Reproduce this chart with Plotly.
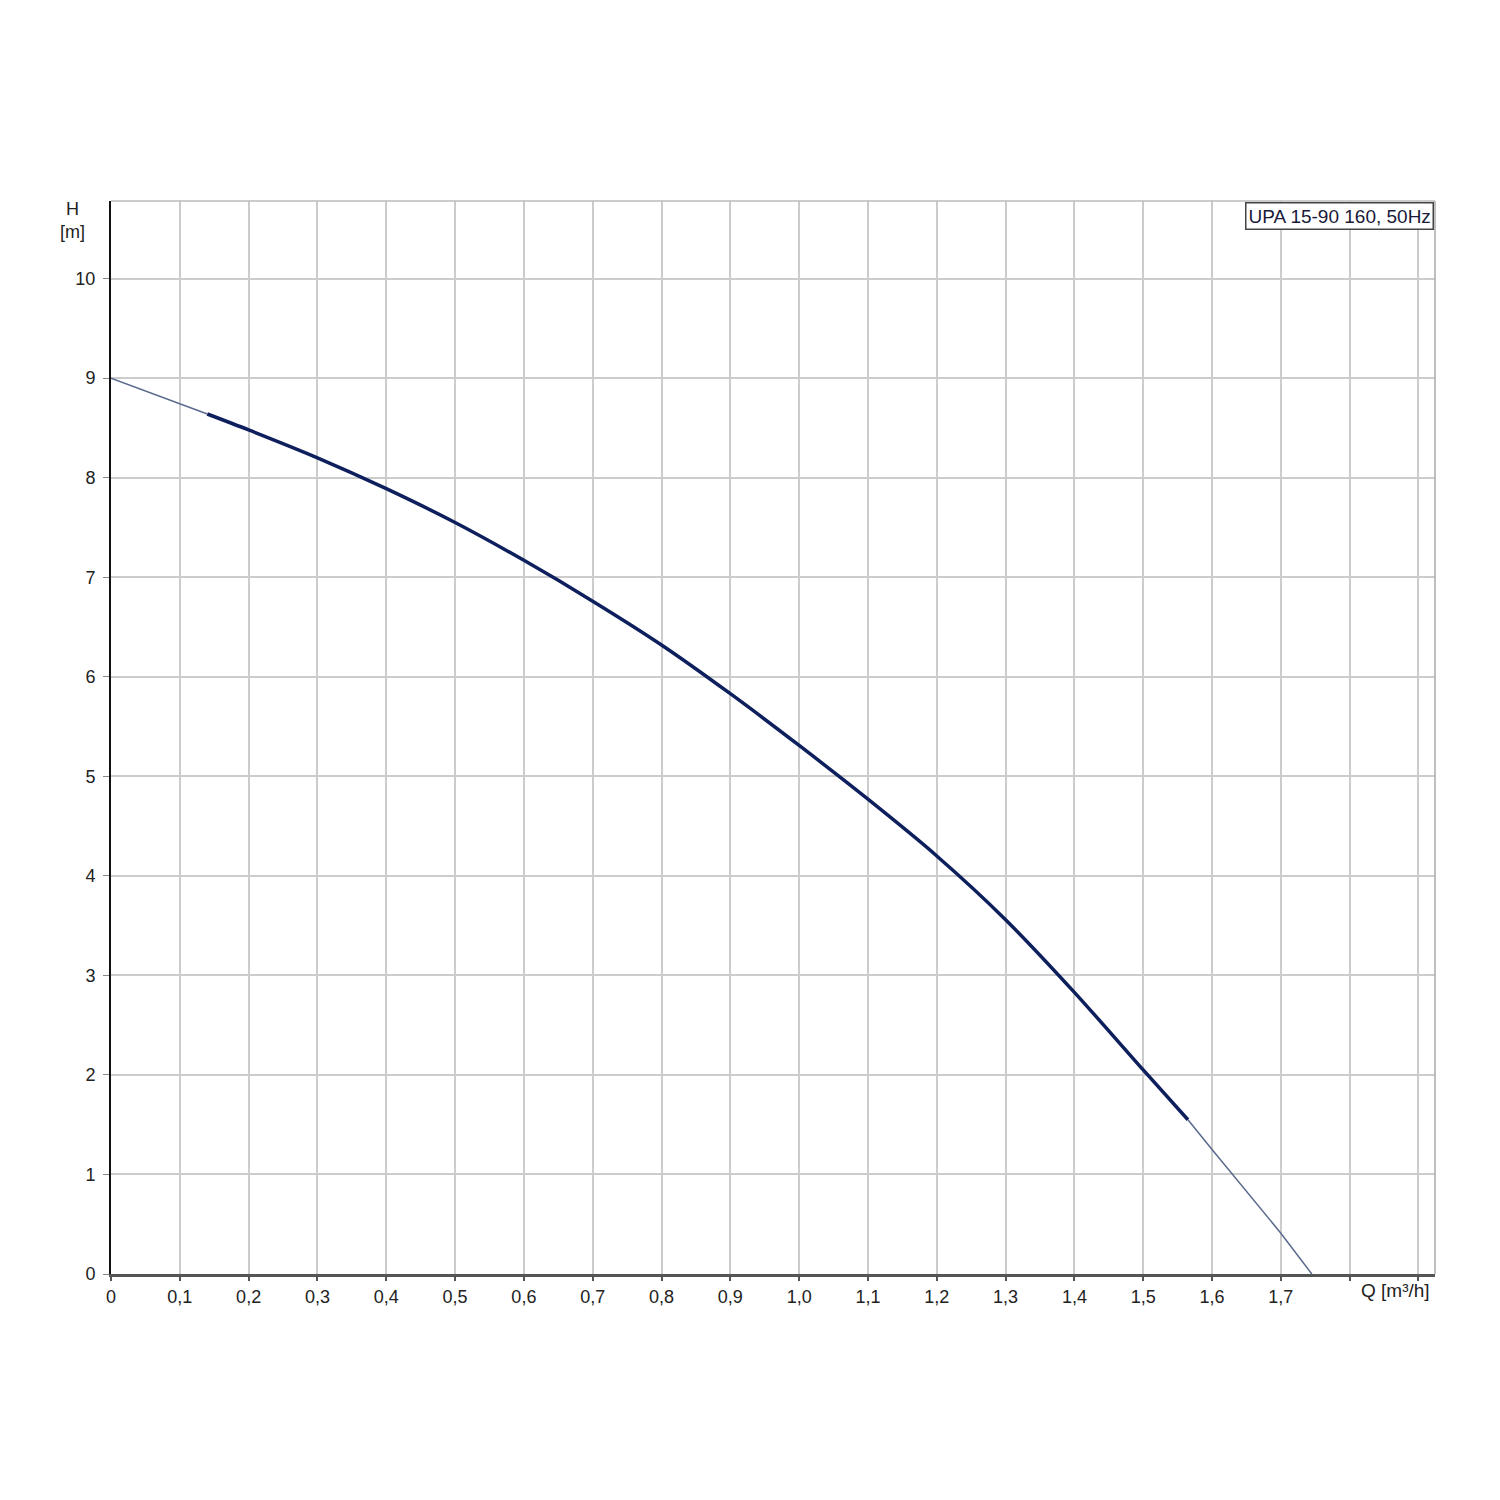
import plotly.graph_objects as go

# Pump curve data (Q in m³/h, H in m)
q_start = [0.0, 0.14]
h_start = [9.0, 8.64]

q_main = [0.14, 0.2, 0.3, 0.4, 0.5, 0.6, 0.7, 0.8, 0.9, 1.0, 1.1, 1.2, 1.3, 1.4, 1.5, 1.565]
h_main = [8.64, 8.48, 8.20, 7.89, 7.55, 7.17, 6.76, 6.32, 5.83, 5.31, 4.77, 4.20, 3.56, 2.83, 2.05, 1.55]

q_end = [1.565, 1.6, 1.7, 1.745]
h_end = [1.55, 1.25, 0.41, 0.0]

x_tickvals = [0, 0.1, 0.2, 0.3, 0.4, 0.5, 0.6, 0.7, 0.8, 0.9, 1.0, 1.1, 1.2, 1.3, 1.4, 1.5, 1.6, 1.7, 1.8, 1.9]
x_ticktext = ["0", "0,1", "0,2", "0,3", "0,4", "0,5", "0,6", "0,7", "0,8", "0,9", "1,0", "1,1", "1,2", "1,3", "1,4", "1,5", "1,6", "1,7", "", ""]
y_tickvals = [0, 1, 2, 3, 4, 5, 6, 7, 8, 9, 10]

font_family = "Liberation Sans, Arial, sans-serif"

fig = go.Figure()
fig.add_trace(go.Scatter(x=q_start, y=h_start, mode="lines",
                         line=dict(color="#5a6a8c", width=1.5), showlegend=False))
fig.add_trace(go.Scatter(x=q_main, y=h_main, mode="lines", line_shape="spline",
                         line=dict(color="#0d1f5c", width=3.5, smoothing=0.8), showlegend=False))
fig.add_trace(go.Scatter(x=q_end, y=h_end, mode="lines",
                         line=dict(color="#5a6a8c", width=1.5), showlegend=False))

fig.update_layout(
    width=1500, height=1500,
    paper_bgcolor="white", plot_bgcolor="white",
    margin=dict(l=103, r=73, t=193, b=234),
    font=dict(family=font_family, size=18, color="#222222"),
    showlegend=False,
)
fig.update_xaxes(
    range=[0, 1.924], tickvals=x_tickvals, ticktext=x_ticktext,
    showgrid=True, gridcolor="#cccccc", gridwidth=2,
    showline=True, linecolor="#555555", linewidth=3, mirror=False,
    ticks="outside", ticklen=4, tickcolor="#555555", tickwidth=2,
    zeroline=False, tickfont=dict(size=18, color="#222222"),
)
fig.update_yaxes(
    range=[0, 10.78], tickvals=y_tickvals,
    showgrid=True, gridcolor="#cccccc", gridwidth=2,
    showline=True, linecolor="#111111", linewidth=2,
    ticks="outside", ticklen=6, tickcolor="#888888", tickwidth=1,
    ticklabelstandoff=4,
    zeroline=False, tickfont=dict(size=18, color="#222222"),
)
# right and top frame lines
fig.add_shape(type="line", xref="paper", yref="paper", x0=1, x1=1, y0=0, y1=1,
              line=dict(color="#aaaaaa", width=1.5))
fig.add_shape(type="line", xref="paper", yref="paper", x0=0, x1=1, y0=1, y1=1,
              line=dict(color="#bbbbbb", width=1.5))

fig.add_annotation(text="H<br>[m]", xref="paper", yref="paper", x=-0.029, y=1.004,
                   xanchor="center", yanchor="top", showarrow=False,
                   font=dict(size=18, color="#222222"), align="center")
fig.add_annotation(text="Q [m³/h]", xref="paper", yref="paper", x=0.97, y=-0.004,
                   xanchor="center", yanchor="top", showarrow=False,
                   font=dict(size=19, color="#222222"))
fig.add_annotation(text="UPA 15-90 160, 50Hz", xref="paper", yref="paper", x=0.9995, y=0.999,
                   xanchor="right", yanchor="top", showarrow=False,
                   font=dict(size=19, color="#1a1a3a"), bgcolor="white",
                   bordercolor="#444444", borderwidth=1.5, borderpad=2)

fig.write_html("out.html")
